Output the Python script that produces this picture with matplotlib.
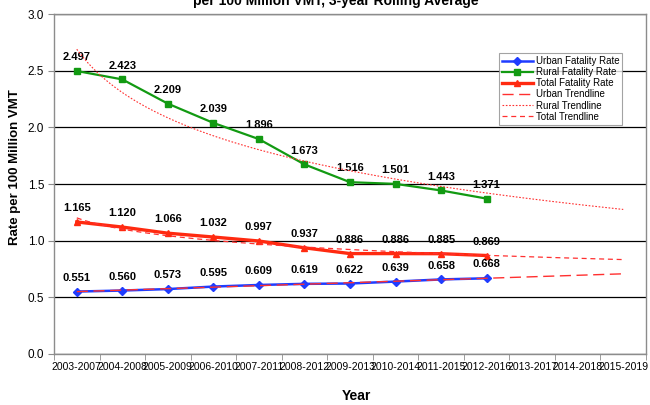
import numpy as np
import matplotlib
matplotlib.use("Agg")
import matplotlib.pyplot as plt

plt.rcParams["font.family"] = ["Liberation Sans", "DejaVu Sans"]

# データ (3年移動平均, 100 million VMT あたり)
periods = ["2003-2007", "2004-2008", "2005-2009", "2006-2010", "2007-2011",
           "2008-2012", "2009-2013", "2010-2014", "2011-2015", "2012-2016",
           "2013-2017", "2014-2018", "2015-2019"]
urban = [0.551, 0.560, 0.573, 0.595, 0.609, 0.619, 0.622, 0.639, 0.658, 0.668]
rural = [2.497, 2.423, 2.209, 2.039, 1.896, 1.673, 1.516, 1.501, 1.443, 1.371]
total = [1.165, 1.120, 1.066, 1.032, 0.997, 0.937, 0.886, 0.886, 0.885, 0.869]

GRAY = "#8c8c8c"

fig = plt.figure(figsize=(6.5, 4.05), dpi=100)
ax = fig.add_axes([54 / 650, 1 - 354 / 405, 592 / 650, 340 / 405])

x = np.arange(len(urban))
ax.plot(x, urban, color="#1f3cff", lw=1.8, marker="D", ms=4, zorder=3, label="Urban Fatality Rate")
ax.plot(x, rural, color="#129a12", lw=1.6, marker="s", ms=4.5, zorder=3, label="Rural Fatality Rate")
ax.plot(x, total, color="#ff2a10", lw=2.4, marker="^", ms=5, zorder=3, label="Total Fatality Rate")

# Excel 風トレンドライン (urban: 線形, rural/total: 対数)
xx = np.linspace(0, len(periods) - 1, 200)
k = x + 1.0
pu = np.polyfit(k, urban, 1)
pr = np.polyfit(np.log(k), rural, 1)
pt = np.polyfit(np.log(k), total, 1)
ax.plot(xx, np.polyval(pu, xx + 1), color="#ff3030", lw=1.0, ls=(0, (8, 4)), zorder=4, label="Urban Trendline")
ax.plot(xx, np.polyval(pr, np.log(xx + 1)), color="#ff3030", lw=0.8, ls=(0, (1.5, 1.5)), zorder=4, label="Rural Trendline")
ax.plot(xx, np.polyval(pt, np.log(xx + 1)), color="#ff3030", lw=0.9, ls=(0, (4, 3)), zorder=4, label="Total Trendline")

# データラベル
for ser in (urban, rural, total):
    for i, v in enumerate(ser):
        ax.annotate(f"{v:.3f}", (i, v), xytext=(0, 10), textcoords="offset points",
                    ha="center", va="center", fontsize=8, fontweight="bold")

ax.set_xlim(-0.5, len(periods) - 0.5)
ax.set_ylim(0, 3.0)
ax.set_yticks(np.arange(0, 3.01, 0.5))
ax.set_yticklabels([f"{t:.1f}" for t in np.arange(0, 3.01, 0.5)], fontsize=8.5)
ax.set_xticks(np.arange(len(periods)))
ax.set_xticklabels(periods, fontsize=7.5)
ax.set_xticks(np.arange(-0.5, len(periods)), minor=True)
ax.tick_params(axis="x", which="major", length=0, pad=6)
ax.tick_params(axis="x", which="minor", length=4, color=GRAY)
ax.tick_params(axis="y", length=4, color=GRAY, pad=3)
ax.grid(axis="y", color="black", lw=0.9)
ax.set_axisbelow(True)
for s in ax.spines.values():
    s.set_color(GRAY)
    s.set_linewidth(1.0)

ax.set_ylabel("Rate per 100 Million VMT", fontsize=9.5, fontweight="bold", va="center")
ax.yaxis.set_label_coords((15 - 54) / 592, (354 - 167) / 340)
ax.set_xlabel("Year", fontsize=10, fontweight="bold", va="center")
ax.xaxis.set_label_coords((356 - 54) / 592, -(396 - 354) / 340)

leg = ax.legend(loc="upper left", bbox_to_anchor=(499 / 650, 1 - 53 / 405),
                bbox_transform=fig.transFigure, fontsize=7, frameon=True,
                fancybox=False, edgecolor=GRAY, handlelength=3.2, borderaxespad=0,
                labelspacing=0.12, borderpad=0.3, handletextpad=0.3)
leg.get_frame().set_linewidth(0.8)

fig.text(336 / 650, 1 - 5 / 405, "per 100 Million VMT, 3-year Rolling Average",
         ha="center", va="baseline", fontsize=10, fontweight="bold")

fig.savefig("out.png", dpi=100)
